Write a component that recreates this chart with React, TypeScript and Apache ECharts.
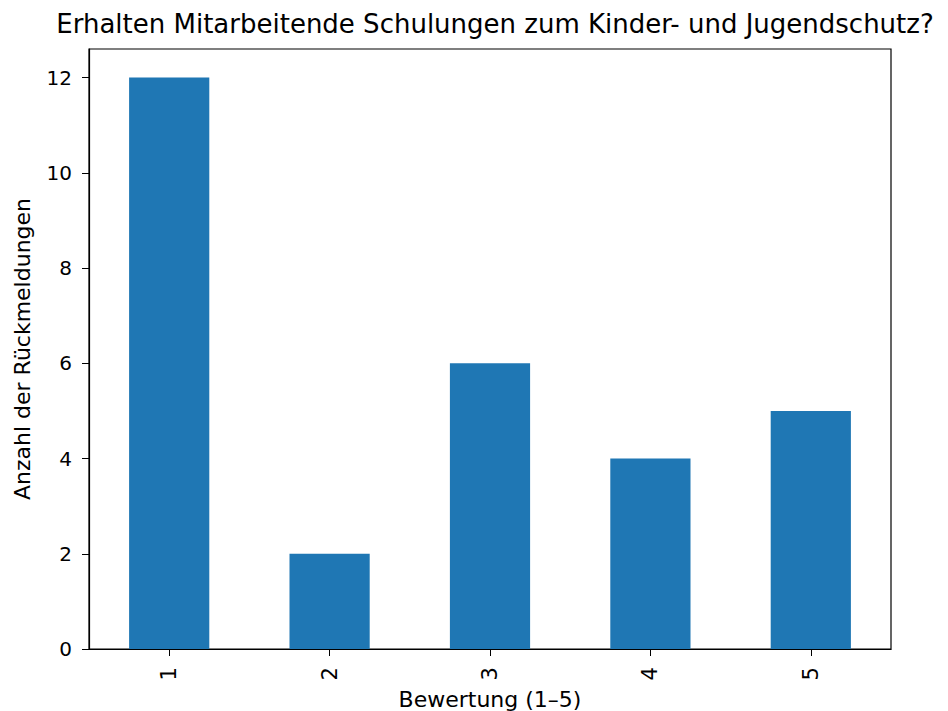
import React, { useEffect, useRef } from "react";
import * as echarts from "echarts";

const categories = ["1", "2", "3", "4", "5"];
const counts = [12, 2, 6, 4, 5];
const yTicks = [0, 2, 4, 6, 8, 10, 12];

const titleText = "Erhalten Mitarbeitende Schulungen zum Kinder- und Jugendschutz?";
const xName = "Bewertung (1–5)";
const yName = "Anzahl der Rückmeldungen";

export default function App() {
  const ref = useRef<HTMLDivElement>(null);
  useEffect(() => {
    if (!ref.current) return;
    const chart = echarts.init(ref.current, null, { renderer: "svg" });
    const font = "DejaVu Sans";
    chart.setOption({
      animation: false,
      backgroundColor: "#ffffff",
      textStyle: { fontFamily: font, color: "#000" },
      title: {
        text: titleText,
        left: 490,
        textAlign: "center",
        top: 6,
        textStyle: { fontFamily: font, fontSize: 26, fontWeight: "normal", color: "#000" },
      },
      grid: {
        left: 89,
        right: 57,
        top: 49,
        bottom: 62,
        outerBoundsMode: "none",
        containLabel: false,
        show: true,
        borderColor: "#000",
        borderWidth: 1.2,
        backgroundColor: "transparent",
      },
      xAxis: {
        type: "category",
        data: categories,
        name: xName,
        nameLocation: "middle",
        nameGap: 34,
        nameTextStyle: { fontFamily: font, fontSize: 22, color: "#000" },
        axisLine: { show: true, lineStyle: { color: "#000", width: 1.2 } },
        axisTick: { show: true, alignWithLabel: true, length: 7, lineStyle: { color: "#000" } },
        axisLabel: { rotate: 90, margin: 18, fontFamily: font, fontSize: 21, color: "#000" },
        splitLine: { show: false },
      },
      yAxis: {
        type: "value",
        min: 0,
        max: 12.6,
        interval: 2,
        name: yName,
        nameLocation: "middle",
        nameGap: 56,
        nameTextStyle: { fontFamily: font, fontSize: 22, color: "#000" },
        axisLine: { show: true, lineStyle: { color: "#000", width: 1.2 } },
        axisTick: { show: true, length: 7, lineStyle: { color: "#000" }, customValues: yTicks },
        axisLabel: { margin: 17, fontFamily: font, fontSize: 20, color: "#000", customValues: yTicks },
        splitLine: { show: false },
      },
      series: [
        {
          type: "bar",
          data: counts,
          barWidth: "50%",
          itemStyle: { color: "#1f77b4" },
        },
      ],
    });
    return () => chart.dispose();
  }, []);
  return (
    <div
      ref={ref}
      style={{ position: "fixed", left: 0, top: 0, width: 948, height: 711 }}
    />
  );
}
